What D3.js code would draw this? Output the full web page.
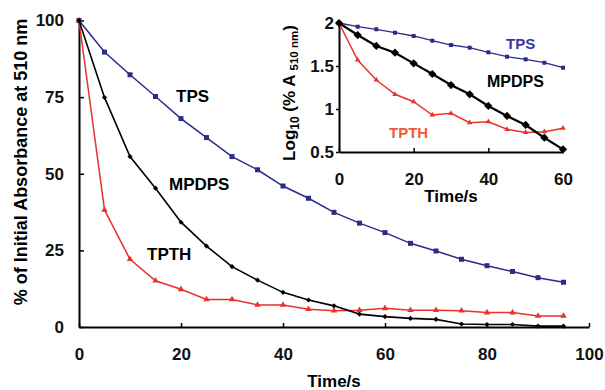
<!DOCTYPE html>
<html>
<head>
<meta charset="utf-8">
<script src="https://cdn.jsdelivr.net/npm/d3@7"></script>
<style>
  body { margin: 0; background: #fff; }
  svg text { font-family: "Liberation Sans", Arial, sans-serif; font-weight: bold; }
</style>
</head>
<body>
<svg id="chart" width="605" height="390"></svg>
<script>
// main plot: % of initial absorbance vs time
var times = [0,5,10,15,20,25,30,35,40,45,50,55,60,65,70,75,80,85,90,95];
var tpsMain   = [100,89.7,82.3,75.2,68.0,61.8,55.6,51.3,46.0,42.0,37.4,33.9,30.8,27.3,24.8,22.1,20.0,18.1,16.1,14.6];
var mpdpsMain = [100,74.9,55.6,45.3,34.2,26.4,19.7,15.3,11.3,8.8,6.9,4.2,3.4,2.8,2.5,1.0,0.8,0.8,0.3,0.3];
var tpthMain  = [100,38.2,22.1,15.1,12.3,9.0,9.0,7.2,7.2,5.8,5.3,5.5,6.1,5.5,5.5,5.3,4.7,4.7,3.6,3.6];
var mainXTicks = [0,20,40,60,80,100];
var mainYTicks = [0,25,50,75,100];

// inset: log10 of % A at 510 nm
var insetTimes = [0,5,10,15,20,25,30,35,40,45,50,55,60];
var tpsLog   = [2,1.957,1.927,1.887,1.849,1.794,1.744,1.713,1.659,1.608,1.578,1.538,1.48];
var mpdpsLog = [2,1.86,1.733,1.655,1.531,1.407,1.279,1.171,1.035,0.919,0.814,0.666,0.531];
var tpthLog  = [2,1.57,1.337,1.171,1.085,0.93,0.95,0.84,0.852,0.764,0.727,0.736,0.776];
var insetXTicks = [0,20,40,60];
var insetYTicks = [0.5,1,1.5,2];

var blue = "#2b2b8a", red = "#e8322f", black = "#000";

var svg = d3.select("#chart");

var x = d3.scaleLinear().domain([0,100]).range([79,589]);
var y = d3.scaleLinear().domain([0,100]).range([327,20.5]);

function drawAxes(g, xs, ys, xTicks, yTicks, xPad, yTickSize, yPad, yFmt){
   var ax = g.append("g")
      .attr("transform", "translate(0," + ys.range()[0] + ")")
      .call(d3.axisBottom(xs).tickValues(xTicks).tickSizeInner(-4).tickSizeOuter(0).tickPadding(xPad));
   var ay = g.append("g")
      .attr("transform", "translate(" + xs.range()[0] + ",0)")
      .call(d3.axisLeft(ys).tickValues(yTicks).tickSizeInner(yTickSize).tickSizeOuter(0).tickPadding(yPad).tickFormat(yFmt));
   [ax, ay].forEach(function(a){
      a.select(".domain").attr("stroke", "#000").attr("stroke-width", 2);
      a.selectAll(".tick line").attr("stroke", "#000").attr("stroke-width", 1.5);
      a.selectAll("text").attr("font-size", 17).attr("fill", "#111");
   });
}

function drawSeries(g, xs, ys, tx, vals, color, sym, size, width, rot){
   var pts = tx.map(function(t, i){ return [t, vals[i]]; });
   g.append("path")
      .datum(pts)
      .attr("fill", "none")
      .attr("stroke", color)
      .attr("stroke-width", width)
      .attr("d", d3.line().x(function(d){ return xs(d[0]); }).y(function(d){ return ys(d[1]); }));
   g.selectAll(null)
      .data(pts)
      .enter()
      .append("path")
      .attr("transform", function(d){ return "translate(" + xs(d[0]) + "," + ys(d[1]) + ") rotate(" + rot + ")"; })
      .attr("d", d3.symbol().type(sym).size(size))
      .attr("fill", color);
}

// main chart
var main = svg.append("g");
drawAxes(main, x, y, mainXTicks, mainYTicks, 21, -5, 15, d3.format("d"));
drawSeries(main, x, y, times, tpsMain, blue, d3.symbolSquare, 25, 1.5, 0);
drawSeries(main, x, y, times, tpthMain, red, d3.symbolTriangle, 18, 1.5, 0);
drawSeries(main, x, y, times, mpdpsMain, black, d3.symbolSquare, 13, 1.6, 45);

main.append("text").attr("x", 334).attr("y", 387).attr("text-anchor", "middle")
   .attr("font-size", 17).text("Time/s");
main.append("text").attr("transform", "translate(27,162) rotate(-90)").attr("text-anchor", "middle")
   .attr("font-size", 18).text("% of Initial Absorbance at 510 nm");
main.append("text").attr("x", 176).attr("y", 102).attr("font-size", 17).text("TPS");
main.append("text").attr("x", 169).attr("y", 190).attr("font-size", 17).text("MPDPS");
main.append("text").attr("x", 147).attr("y", 260).attr("font-size", 17).text("TPTH");

// inset chart
var xi = d3.scaleLinear().domain([0,60]).range([339,563]);
var yi = d3.scaleLinear().domain([0.5,2]).range([152,23]);
var inset = svg.append("g");
drawAxes(inset, xi, yi, insetXTicks, insetYTicks, 21, 3, 2, function(d){ return String(d); });
drawSeries(inset, xi, yi, insetTimes, tpsLog, blue, d3.symbolSquare, 16, 1.3, 0);
drawSeries(inset, xi, yi, insetTimes, tpthLog, red, d3.symbolTriangle, 13, 1.5, 0);
drawSeries(inset, xi, yi, insetTimes, mpdpsLog, black, d3.symbolSquare, 34, 2.2, 45);

inset.append("text").attr("x", 451).attr("y", 202).attr("text-anchor", "middle")
   .attr("font-size", 17).text("Time/s");
var ylab = inset.append("text").attr("transform", "translate(295,93) rotate(-90)")
   .attr("text-anchor", "middle").attr("font-size", 17);
ylab.append("tspan").text("Log");
ylab.append("tspan").attr("font-size", 12).attr("dy", 4).text("10");
ylab.append("tspan").attr("dy", -4).text(" (% A ");
ylab.append("tspan").attr("font-size", 11.5).attr("dy", 3).text("510 nm");
ylab.append("tspan").attr("dy", -3).text(")");
inset.append("text").attr("x", 506).attr("y", 49).attr("font-size", 15).attr("fill", "#3636a8").text("TPS");
inset.append("text").attr("x", 487).attr("y", 87).attr("font-size", 16).text("MPDPS");
inset.append("text").attr("x", 389).attr("y", 138).attr("font-size", 15).attr("fill", "#f05a3c").text("TPTH");
</script>
</body>
</html>
